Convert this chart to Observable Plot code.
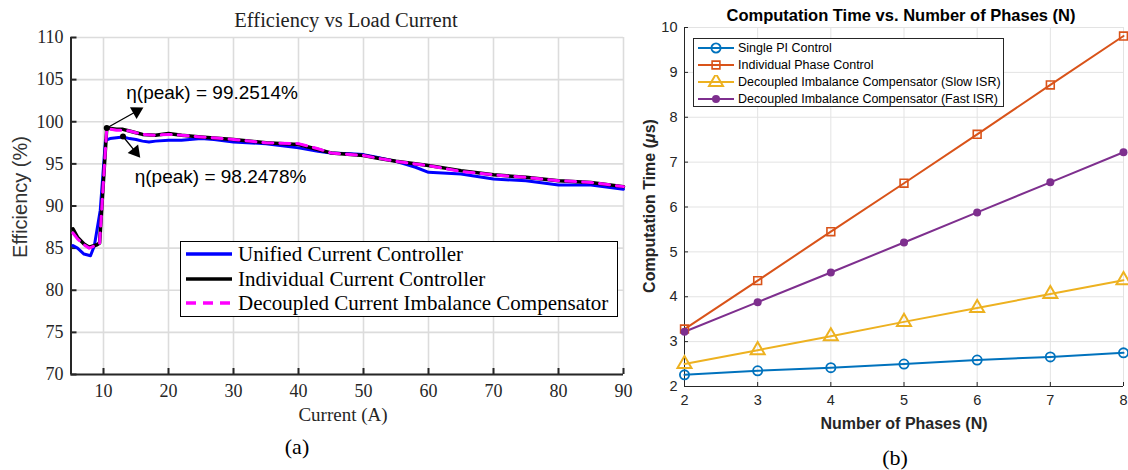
<!DOCTYPE html>
<html><head><meta charset="utf-8">
<script src="https://cdn.jsdelivr.net/npm/d3@7"></script>
<script src="https://cdn.jsdelivr.net/npm/@observablehq/plot@0.6"></script>
<style>
body{margin:0;background:#fff;}
#wrap{position:relative;width:1128px;height:470px;overflow:hidden;background:#fff;}
.abs{position:absolute;white-space:nowrap;}
</style>
</head><body><div id="wrap"></div>
<script>
// ---------- Panel (a) data ----------
const currentUnified=[5.3,6,7,8,8.6,9.5,10.3,11,12,13,14,15,16,17,18,20,22,25,27,30,35,40,43,45,48,50,52,55,58,60,65,70,75,80,85,90];
const effUnified=[85.3,85.0,84.3,84.1,85.3,89.5,97.8,98.0,98.1,98.2,98.0,97.9,97.7,97.6,97.7,97.8,97.8,98.0,97.9,97.6,97.4,96.9,96.5,96.3,96.2,96.1,95.8,95.3,94.6,94.0,93.8,93.2,93.0,92.5,92.5,92.0];
const currentIndividual=[5.3,6,7,7.8,9,9.4,10.5,12,13,14,15,16,18,20,22,25,30,35,40,43,45,48,50,52,55,60,65,70,75,80,85,90];
const effIndividual=[87.3,86.3,85.5,85.1,85.4,85.6,99.25,99.1,99.1,98.9,98.7,98.5,98.4,98.6,98.4,98.2,97.9,97.5,97.3,96.7,96.3,96.1,96.0,95.7,95.3,94.8,94.2,93.7,93.4,93.0,92.8,92.3];
const currentDecoupled=[5.3,6,7,7.8,9,9.4,10.5,12,13,14,15,16,18,20,22,25,30,35,40,43,45,48,50,52,55,60,65,70,75,80,85,90];
const effDecoupled=[86.8,86.1,85.4,85.0,85.4,85.6,99.2,99.0,99.0,98.9,98.7,98.5,98.4,98.5,98.4,98.2,97.9,97.5,97.4,96.8,96.3,96.1,96.0,95.7,95.3,94.8,94.1,93.7,93.4,93.0,92.8,92.3];
const peakX=[10.5,13.0];
const peakY=[99.2514,98.2478];
const peakLabels=["η(peak) = 99.2514%","η(peak) = 98.2478%"];
const peakLabelX=[13.5,14.8];
const peakLabelY=[103.4,93.4];
const arrowEndX=[15.1,14.9];
const arrowEndY=[101.25,96.45];
const xTicksA=[10,20,30,40,50,60,70,80,90];
const yTicksA=[70,75,80,85,90,95,100,105,110];
const seriesA=["Unified Current Controller","Individual Current Controller","Decoupled Current Imbalance Compensator"];

// ---------- Panel (b) data ----------
const phases=[2,3,4,5,6,7,8];
const singlePI=[2.26,2.35,2.42,2.50,2.59,2.66,2.75];
const individualPhase=[3.28,4.36,5.45,6.53,7.62,8.72,9.81];
const slowISR=[2.50,2.81,3.12,3.44,3.75,4.06,4.37];
const fastISR=[3.22,3.88,4.54,5.21,5.88,6.55,7.22];
const seriesB=["Single PI Control","Individual Phase Control","Decoupled Imbalance Compensator (Slow ISR)","Decoupled Imbalance Compensator (Fast ISR)"];
const xTicksB=[2,3,4,5,6,7,8];
const yTicksB=[2,3,4,5,6,7,8,9,10];

const wrap=document.getElementById("wrap");
function div(html,css){const d=document.createElement("div");d.className="abs";d.innerHTML=html;d.style.cssText+=css;return d;}

// ---------- Panel (a) ----------
const WA=640,HA=440,mLA=70.5,mRA=17,mTA=37,mBA=66;
const xsA=d3.scaleLinear([5,90],[mLA,WA-mRA]);
const ysA=d3.scaleLinear([70,110],[HA-mBA,mTA]);
const toRows=(xs,ys)=>xs.map((x,i)=>({x,y:ys[i]}));
const unifiedRows=toRows(currentUnified,effUnified);
const individualRows=toRows(currentIndividual,effIndividual);
const decoupledRows=toRows(currentDecoupled,effDecoupled);
const arrows=peakX.map((x,i)=>{
  const dx=xsA(arrowEndX[i])-xsA(x), dy=ysA(arrowEndY[i])-ysA(peakY[i]);
  return {x1:x,y1:peakY[i],x2:arrowEndX[i],y2:arrowEndY[i],rot:Math.atan2(dx,-dy)*180/Math.PI,label:peakLabels[i],lx:peakLabelX[i],ly:peakLabelY[i]};
});

const plotA=Plot.plot({
  width:WA,height:HA,marginLeft:mLA,marginRight:mRA,marginTop:mTA,marginBottom:mBA,
  x:{domain:[5,90]},y:{domain:[70,110]},
  style:{fontFamily:"Liberation Serif",fontSize:"18px",color:"#262626",background:"transparent"},
  marks:[
    Plot.gridX(xTicksA,{stroke:"#dcdcdc",strokeOpacity:1,strokeWidth:1.6}),
    Plot.gridY(yTicksA,{stroke:"#dcdcdc",strokeOpacity:1,strokeWidth:1.6}),
    Plot.ruleX([5],{stroke:"#262626",strokeWidth:2}),
    Plot.ruleY([70],{stroke:"#262626",strokeWidth:2}),
    Plot.axisX(xTicksA,{tickSize:-6,tickPadding:16,strokeWidth:2,label:null,tickFormat:d=>d}),
    Plot.axisY(yTicksA,{tickSize:-6,tickPadding:13.5,strokeWidth:2,label:null,tickFormat:d=>d}),
    Plot.line(unifiedRows,{x:"x",y:"y",stroke:"#0000ff",strokeWidth:3}),
    Plot.line(individualRows,{x:"x",y:"y",stroke:"#000",strokeWidth:3.5}),
    Plot.line(decoupledRows,{x:"x",y:"y",stroke:"#ff00ff",strokeWidth:3,strokeDasharray:"10,7"}),
    Plot.link(arrows,{x1:"x1",y1:"y1",x2:"x2",y2:"y2",stroke:"#000",strokeWidth:1.3}),
    Plot.dot([arrows[0]],{x:"x2",y:"y2",symbol:"triangle",r:5,fill:"#000",stroke:"none",rotate:arrows[0].rot}),
    Plot.dot([arrows[1]],{x:"x2",y:"y2",symbol:"triangle",r:5,fill:"#000",stroke:"none",rotate:arrows[1].rot}),
    Plot.dot(arrows,{x:"x1",y:"y1",r:3,fill:"#000"}),
    Plot.text(arrows,{x:"lx",y:"ly",text:"label",textAnchor:"start",fontFamily:"Liberation Sans",fontSize:19,fill:"#000"})
  ]
});
plotA.style.position="absolute";plotA.style.left="0";plotA.style.top="0";
wrap.appendChild(plotA);
wrap.appendChild(div("Current (A)","left:343px;top:415px;transform:translate(-50%,-50%);font:19px 'Liberation Serif';color:#262626;"));
wrap.appendChild(div("Efficiency vs Load Current","left:346px;top:20px;transform:translate(-50%,-50%);font:20.5px 'Liberation Serif';color:#222;"));
wrap.appendChild(div("Efficiency (%)","left:20px;top:197px;transform:translate(-50%,-50%) rotate(-90deg);font:20px 'Liberation Sans';color:#333;"));
wrap.appendChild(div("(a)","left:297px;top:447px;transform:translate(-50%,-50%);font:22px 'Liberation Serif';color:#000;"));

// legend (a)
const legA=document.createElement("div");
legA.className="abs";
legA.style.cssText+="left:180px;top:241px;width:436px;height:74px;border:1.5px solid #000;background:#fff;";
const stylesA=[{c:"#0000ff",d:""},{c:"#000",d:""},{c:"#ff00ff",d:"10,7"}];
seriesA.forEach((s,i)=>{
  const y=12+i*24.5;
  legA.appendChild(div(`<svg width="50" height="8" style="display:block"><line x1="2" x2="48" y1="4" y2="4" stroke="${stylesA[i].c}" stroke-width="3.5" ${stylesA[i].d?`stroke-dasharray="${stylesA[i].d}"`:""}/></svg>`,`left:3px;top:${y-4}px;`));
  legA.appendChild(div(s,`left:57px;top:${y}px;transform:translateY(-50%);font:21px 'Liberation Serif';color:#000;`));
});
wrap.appendChild(legA);

// ---------- Panel (b) ----------
const WB=528,HB=440,mLB=84,mRB=5,mTB=27,mBB=54;
const colorsB=["#0072BD","#D95319","#EDB120","#7E2F8E"];
const valuesB=[singlePI,individualPhase,slowISR,fastISR];
const rowsB=valuesB.flatMap((vals,k)=>phases.map((p,i)=>({n:p,t:vals[i],s:seriesB[k]})));
const symB=["circle","square","triangle","circle"];
const markerOpts=[
  {r:4.6,fill:"none",strokeWidth:1.8},
  {r:4.4,fill:"none",strokeWidth:1.6},
  {r:5.2,fill:"none",strokeWidth:2},
  {r:4,strokeWidth:0}
];
const marksB=[
  Plot.gridX(xTicksB,{stroke:"#e3e3e3",strokeOpacity:1,strokeWidth:1}),
  Plot.gridY(yTicksB,{stroke:"#e3e3e3",strokeOpacity:1,strokeWidth:1}),
  Plot.ruleX([2],{stroke:"#262626",strokeWidth:1}),
  Plot.ruleY([2],{stroke:"#262626",strokeWidth:1}),
  Plot.axisX(xTicksB,{tickSize:-4,tickPadding:12,label:null,tickFormat:d=>d}),
  Plot.axisY(yTicksB,{tickSize:-4,tickPadding:11,label:null,tickFormat:d=>d})
];
seriesB.forEach((s,k)=>{
  const data=rowsB.filter(d=>d.s===s);
  marksB.push(Plot.line(data,{x:"n",y:"t",stroke:colorsB[k],strokeWidth:2}));
});
seriesB.forEach((s,k)=>{
  const data=rowsB.filter(d=>d.s===s);
  const o=markerOpts[k];
  marksB.push(Plot.dot(data,{x:"n",y:"t",symbol:symB[k],r:o.r,stroke:colorsB[k],strokeWidth:o.strokeWidth,fill:o.fill===undefined?colorsB[k]:o.fill}));
});
const plotB=Plot.plot({
  width:WB,height:HB,marginLeft:mLB,marginRight:mRB,marginTop:mTB,marginBottom:mBB,
  x:{domain:[2,8]},y:{domain:[2,10]},
  style:{fontFamily:"Liberation Sans",fontSize:"14.5px",color:"#262626",background:"transparent"},
  marks:marksB
});
plotB.style.position="absolute";plotB.style.left="600px";plotB.style.top="0";
wrap.appendChild(plotB);
wrap.appendChild(div("Computation Time vs. Number of Phases (N)","left:901px;top:15px;transform:translate(-50%,-50%);font:bold 16.5px 'Liberation Sans';color:#000;"));
wrap.appendChild(div("Computation Time (<i>μ</i>s)","left:650px;top:206px;transform:translate(-50%,-50%) rotate(-90deg);font:bold 16px 'Liberation Sans';color:#262626;"));
wrap.appendChild(div("Number of Phases (N)","left:904px;top:424px;transform:translate(-50%,-50%);font:bold 16px 'Liberation Sans';color:#262626;"));
wrap.appendChild(div("(b)","left:895px;top:458px;transform:translate(-50%,-50%);font:22px 'Liberation Serif';color:#000;"));

// legend (b)
const legB=document.createElement("div");
legB.className="abs";
legB.style.cssText+="left:693px;top:38px;width:309px;height:67px;border:1px solid #262626;background:#fff;";
seriesB.forEach((s,k)=>{
  const y=9+k*17;
  const sym=d3.symbol(d3[{circle:"symbolCircle",square:"symbolSquare",triangle:"symbolTriangle"}[symB[k]]],Math.PI*markerOpts[k].r*markerOpts[k].r)();
  const fill=markerOpts[k].fill===undefined?colorsB[k]:"none";
  legB.appendChild(div(`<svg width="40" height="14" style="display:block"><line x1="2" x2="38" y1="7" y2="7" stroke="${colorsB[k]}" stroke-width="2"/><path transform="translate(20,7)" d="${sym}" fill="${fill}" stroke="${colorsB[k]}" stroke-width="${markerOpts[k].strokeWidth||0}"/></svg>`,`left:2px;top:${y-7}px;`));
  legB.appendChild(div(s,`left:44px;top:${y}px;transform:translateY(-50%);font:12.5px 'Liberation Sans';color:#000;`));
});
wrap.appendChild(legB);
</script>
</body></html>
